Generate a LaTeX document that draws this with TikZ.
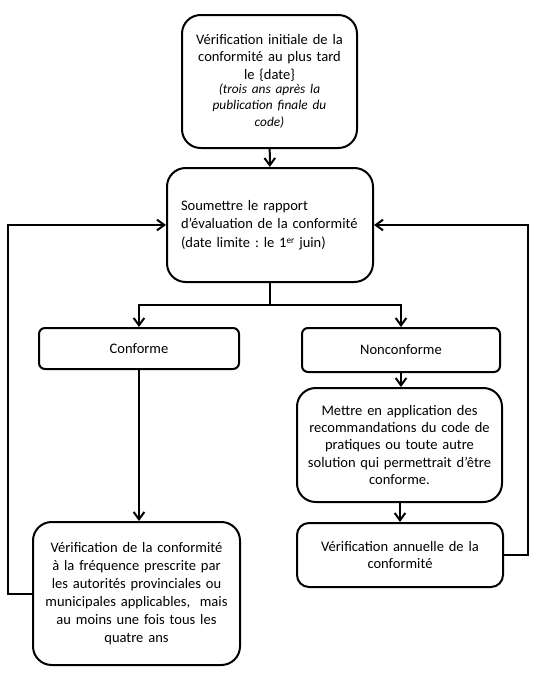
\documentclass[tikz,border=0pt]{standalone}
\usepackage{fontspec}
\setmainfont{Carlito}
\usetikzlibrary{arrows.meta}
\frenchspacing
\begin{document}
\begin{tikzpicture}[x=0.75pt,y=-0.75pt,
  box/.style={draw=black,line width=1.5pt,fill=white,rounded corners=14pt,
    inner sep=0pt,align=center,font=\fontsize{10.9}{13.1}\selectfont},
  smallbox/.style={box,rounded corners=4.5pt},
  conn/.style={line width=1.5pt,-{Straight Barb[length=5.5pt,width=8pt,line width=1.5pt]}},
  line/.style={line width=1.5pt}]
\useasboundingbox (0,0) rectangle (535,678);

\node[box,minimum width=131.25pt,minimum height=99.75pt,text width=125pt] (init) at (269.5,81.5)
  {Vérification initiale de la\\conformité au plus tard\\le \{date\}\\[-1pt]
   {\fontsize{10}{11.8}\selectfont\itshape (trois ans après la\\publication finale du\\code)}};

\node[box,minimum width=154.5pt,minimum height=85.5pt,text width=133.5pt,align=left,
  font=\fontsize{10.9}{13.7}\selectfont] (rap) at (270,225)
  {Soumettre le rapport\\d'évaluation de la conformité\\(date limite : le 1{\fontsize{7}{7}\selectfont\raisebox{3pt}{er}} juin)};

\node[smallbox,minimum width=150pt,minimum height=30.75pt] (conf) at (139,348.5) {Conforme};
\node[smallbox,minimum width=148.5pt,minimum height=33pt] (nonc) at (401,350) {Nonconforme};

\node[box,minimum width=155.25pt,minimum height=107.25pt,text width=150pt,
  font=\fontsize{10.9}{13.6}\selectfont] (freq) at (136.5,593.5)
  {Vérification de la conformité\\à la fréquence prescrite par\\les autorités provinciales ou\\municipales applicables,~ mais\\au moins une fois tous les\\quatre ans};

\node[box,minimum width=153.75pt,minimum height=85.5pt,text width=150pt] (appl) at (399.5,445)
  {Mettre en application des\\recommandations du code de\\pratiques ou toute autre\\solution qui permettrait d’être\\conforme.};

\node[box,rounded corners=9pt,minimum width=154.5pt,minimum height=48pt,text width=150pt] (annu) at (400,555)
  {Vérification annuelle de la\\conformité};

\coordinate (split) at (270,305);
\coordinate (L) at (8,400);
\coordinate (R) at (528,400);

\draw[conn] (init) -- (rap);
\draw[line] (rap.south) -- (split);
\draw[conn] (split) -| (conf.north);
\draw[conn] (split) -| (nonc.north);
\draw[conn] (conf.south) -- (conf.south |- freq.north);
\draw[conn] (nonc.south) -- (nonc.south |- appl.north);
\draw[conn] (appl.south -| annu.north) -- (annu.north);
\draw[conn] (freq.west) -| (L) |- (rap.west);
\draw[conn] (annu.east) -| (R) |- (rap.east);
\end{tikzpicture}
\end{document}
